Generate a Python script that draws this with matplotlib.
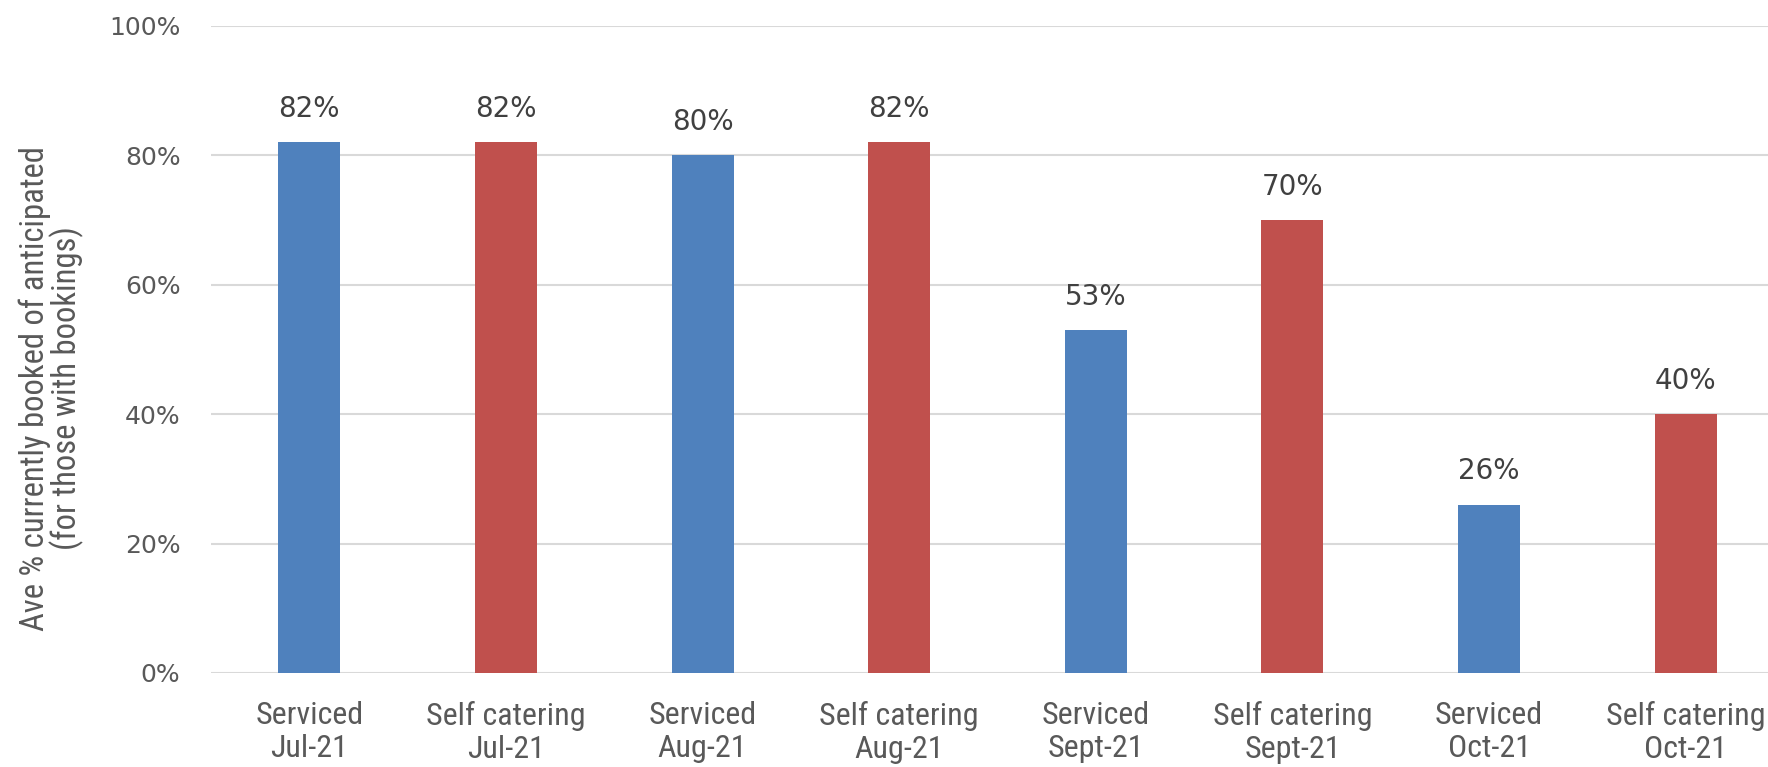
import matplotlib.pyplot as plt
from matplotlib import font_manager
import numpy as np

categories = ["Serviced\nJul-21", "Self catering\nJul-21",
              "Serviced\nAug-21", "Self catering\nAug-21",
              "Serviced\nSept-21", "Self catering\nSept-21",
              "Serviced\nOct-21", "Self catering\nOct-21"]
values = [82, 82, 80, 82, 53, 70, 26, 40]
bar_colors = ["#4F81BD", "#C0504D"] * 4
yticks = [0, 20, 40, 60, 80, 100]

names = {f.name for f in font_manager.fontManager.ttflist}
narrow = "Lato"
for cand in ["Liberation Sans Narrow", "DejaVu Sans Condensed", "Roboto Condensed"]:
    if cand in names:
        narrow = cand
        break

fig = plt.figure(figsize=(17.68, 7.67), dpi=100)
# axes runs a bit past the right edge, as in the original
ax = fig.add_axes([211 / 1768, 94 / 767, 1573 / 1768, 647 / 767])

x = np.arange(len(categories))
ax.bar(x, values, width=0.315, color=bar_colors, zorder=3)

for xi, v in zip(x, values):
    ax.annotate(f"{v}%", (xi, v), xytext=(0, 14), textcoords="offset points",
                ha="center", va="bottom", fontsize=20, color="#404040",
                family="DejaVu Sans")

ax.set_xlim(-0.5, len(categories) - 0.5)
ax.set_ylim(0, 100)
ax.set_yticks(yticks)
ax.set_yticklabels([f"{t}%" for t in yticks], fontsize=18, color="#595959",
                   family="DejaVu Sans")
ax.set_xticks(x)
ax.set_xticklabels(categories, fontsize=23, color="#595959", family=narrow,
                   linespacing=1.2)
ax.tick_params(axis="both", length=0)
ax.tick_params(axis="x", pad=20)
ax.tick_params(axis="y", pad=22)

ax.grid(axis="y", color="#D9D9D9", linewidth=1.5, zorder=0)
for s in ax.spines.values():
    s.set_visible(False)

ax.set_ylabel("Ave % currently booked of anticipated\n(for those with bookings)",
              fontsize=23.5, color="#595959", family=narrow, linespacing=0.93)
ax.yaxis.set_label_coords(-0.081, 0.44)

fig.savefig("out.png", dpi=100)
